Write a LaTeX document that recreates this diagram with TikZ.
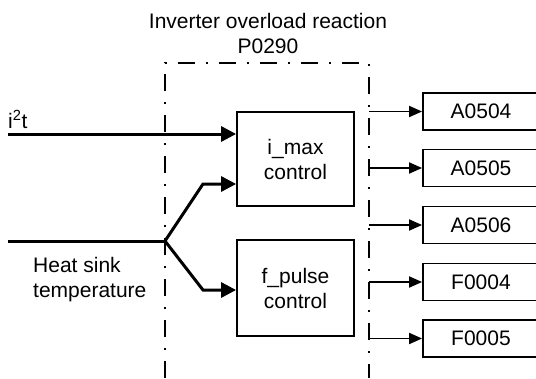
\documentclass[tikz,border=0pt]{standalone}
\usepackage{fontspec}
\setmainfont{Liberation Sans}
\usetikzlibrary{arrows.meta,positioning}

\begin{document}
\begin{tikzpicture}[x=1pt, y=-1pt,
  every node/.style={font=\fontsize{21}{25}\selectfont},
  ctrlbox/.style={draw, line width=1.8pt, minimum width=117pt, align=center, inner sep=0pt},
  msgbox/.style={draw, line width=1.8pt, minimum width=116pt, minimum height=37pt, inner sep=0pt},
  sig/.style={line width=3pt, -{Triangle[length=15pt,width=15pt]}},
  outsig/.style={line width=1.8pt, -{Triangle[length=13pt,width=11pt]}},
  frame/.style={line width=1.6pt, dash pattern=on 17pt off 11pt on 2pt off 11pt}]
\useasboundingbox (0,0) rectangle (536,378);
% title and reaction frame
\node[align=center] (title) at (268,33) {Inverter overload reaction\\P0290};
\draw[frame] (165,378) -- (165,63) -- (369,63) -- (369,378);
% control blocks
\node[ctrlbox, minimum height=94pt] (imax) at (295.5,159) {i\_max\\control};
\node[ctrlbox, minimum height=96pt] (fpulse) at (295.5,288) {f\_pulse\\control};
% inputs
\coordinate (i2t) at (8,134);
\node[anchor=base west, inner sep=0pt] (i2tlbl) at (8,128) {i\textsuperscript{2}t};
\draw[sig] (i2t) -- (imax.west |- i2t);
\coordinate (hs) at (8,241);
\coordinate (fork) at (165,241);
\coordinate (up) at (203,184);
\coordinate (dn) at (203,290);
\node[anchor=north west, align=left, inner sep=0pt] (hslbl) at (33,257) {Heat sink\\temperature};
\draw[line width=3pt] (hs) -- (fork);
\draw[sig, line join=miter] (fork) -- (up) -- (imax.west |- up);
\draw[sig, line join=miter] (fork) -- (dn) -- (fpulse.west |- dn);
% messages
\foreach \n/\txt/\y in {a4/A0504/111.5, a5/A0505/168, a6/A0506/225, f4/F0004/282, f5/F0005/338.5} {
  \node[msgbox] (\n) at (481,\y) {\txt};
  \coordinate (s\n) at (369,\y);
  \draw[outsig] (s\n) -- (\n.west);
}
\end{tikzpicture}
\end{document}
